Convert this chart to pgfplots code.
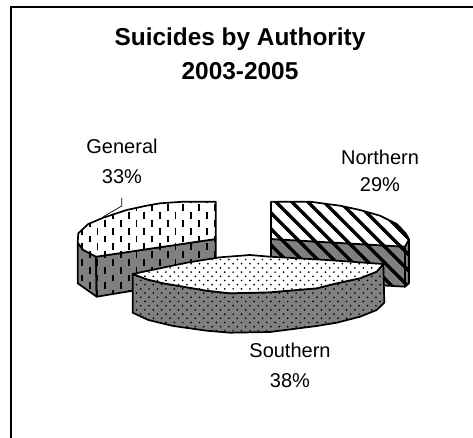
\documentclass[border=0pt]{standalone}
\usepackage{fontspec}
\setmainfont{Liberation Sans}
\usepackage{pgfplots}
\pgfplotsset{compat=1.18}
\usepackage{pgfplotstable}
\usetikzlibrary{patterns}

% fill patterns of the three slices
\pgfdeclarepatternformonly{vdash}{\pgfqpoint{-1pt}{-1pt}}{\pgfqpoint{17pt}{17pt}}{\pgfqpoint{15.6pt}{15.6pt}}{
  \pgfsetlinewidth{1.9pt}
  \pgfpathmoveto{\pgfqpoint{3.9pt}{0.5pt}}\pgfpathlineto{\pgfqpoint{3.9pt}{7.3pt}}
  \pgfpathmoveto{\pgfqpoint{11.7pt}{8.3pt}}\pgfpathlineto{\pgfqpoint{11.7pt}{15.1pt}}
  \pgfusepath{stroke}}
\pgfdeclarepatternformonly{widehatch}{\pgfqpoint{-2pt}{-2pt}}{\pgfqpoint{18pt}{18pt}}{\pgfqpoint{16pt}{16pt}}{
  \pgfsetlinewidth{3.4pt}
  \pgfpathmoveto{\pgfqpoint{-2pt}{18pt}}\pgfpathlineto{\pgfqpoint{18pt}{-2pt}}
  \pgfusepath{stroke}}
\pgfdeclarepatternformonly{fivedots}{\pgfqpoint{-1pt}{-1pt}}{\pgfqpoint{9.5pt}{9.5pt}}{\pgfqpoint{8.4pt}{8.4pt}}{
  \pgfpathcircle{\pgfqpoint{2.1pt}{2.1pt}}{0.95pt}
  \pgfpathcircle{\pgfqpoint{6.3pt}{6.3pt}}{0.95pt}
  \pgfusepath{fill}}

\pgfplotstableread{
x y
215.7 201.7
183.3 201.7
160 203.3
145 206
126.7 210
103.3 217.7
88.3 224
78.3 233.3
77.7 242.7
83.3 250
96 256.7
215.7 239
}\generaltop
\pgfplotstableread{
x y
77.7 242.7
83.3 250
96 256.7
96.7 296.7
77.7 283.3
}\generalouter
\pgfplotstableread{
x y
96 256.7
215.7 239
215.7 277
96.7 296.7
}\generalcut
\pgfplotstableread{
x y
271 201.7
310 201.7
340 205.7
360 210
380 215.7
396.7 224
405.7 233.3
409 239.3
405 246.7
271 239
}\northerntop
\pgfplotstableread{
x y
271 239
405 246.7
405 286.7
271 279
}\northerncut
\pgfplotstableread{
x y
405 246.7
409 239.3
409 283.3
405 286.7
}\northernouter
\pgfplotstableread{
x y
132.7 274
186.7 262.7
220 257.3
250 255
270 256.7
326.7 260
383.3 264
376.7 271.7
360 278.3
336.7 283.3
316.7 288.3
270 292.3
230 293.3
206.7 290.7
183.3 286.7
163.3 283.3
146.7 279.3
}\southerntop
\pgfplotstableread{
x y
132.7 274
146.7 279.3
163.3 283.3
183.3 286.7
206.7 290.7
230 293.3
270 292.3
316.7 288.3
336.7 283.3
360 278.3
376.7 271.7
383.3 264
384.3 302.7
376.7 310
360 316.7
336.7 322.7
316.7 326
270 332
230 332.7
206.7 330.7
173.3 326
148.3 320
132.7 312.7
}\southernside

\newcommand{\face}[3]{
  \addplot[fill=#2,draw=none] table {#1} --cycle;
  \addplot[pattern=#3,pattern color=black,draw=black,line width=1.7pt,line join=round] table {#1} --cycle;
}

\begin{document}
\begin{tikzpicture}
\begin{axis}[scale only axis,width=473pt,height=438pt,
  xmin=0,xmax=473,ymin=0,ymax=438,y dir=reverse,
  hide axis,clip=true]

  % chart frame, open on the right and at the bottom
  \addplot[black,line width=2pt] coordinates {(10.5,438) (10.5,7.5) (473,7.5)};

  \face{\generalouter}{gray}{vdash}
  \face{\generalcut}{gray}{vdash}
  \face{\generaltop}{white}{vdash}

  \face{\northerncut}{gray}{widehatch}
  \face{\northernouter}{gray}{widehatch}
  \face{\northerntop}{white}{widehatch}

  \face{\southernside}{gray}{fivedots}
  \face{\southerntop}{white}{fivedots}

  % leader line of the General label
  \addplot[black,line width=0.7pt] coordinates {(121.7,197.7) (121.7,206) (103.3,216.7)};

  \node[font=\fontsize{24.4}{28}\selectfont\bfseries] at (axis cs:240,39) {Suicides by Authority};
  \node[font=\fontsize{24.4}{28}\selectfont\bfseries] at (axis cs:240,71) {2003-2005};
  \node[font=\fontsize{20}{24}\selectfont] at (axis cs:122,146) {General};
  \node[font=\fontsize{20}{24}\selectfont] at (axis cs:122,176.5) {33\%};
  \node[font=\fontsize{20}{24}\selectfont] at (axis cs:380,157) {Northern};
  \node[font=\fontsize{20}{24}\selectfont] at (axis cs:380,185) {29\%};
  \node[font=\fontsize{20}{24}\selectfont] at (axis cs:290,350) {Southern};
  \node[font=\fontsize{20}{24}\selectfont] at (axis cs:290,381) {38\%};
\end{axis}
\pgfresetboundingbox
\path[use as bounding box] (current axis.south west) rectangle (current axis.north east);
\end{tikzpicture}
\end{document}
